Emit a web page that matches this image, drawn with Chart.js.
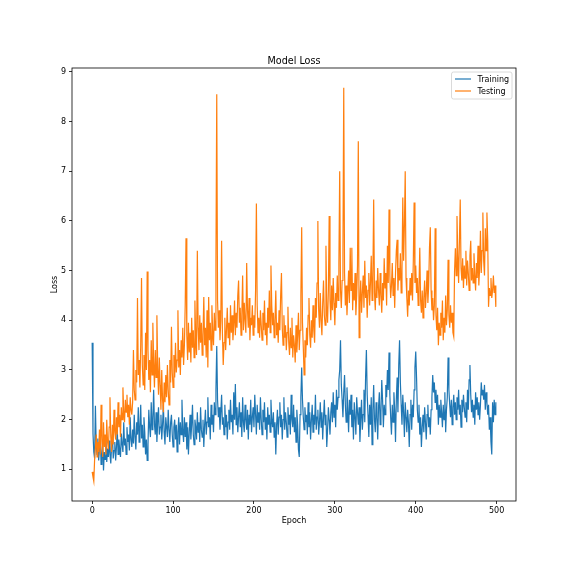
<!DOCTYPE html>
<html lang="en">
<head>
  <meta charset="UTF-8">
  <title>Model Loss</title>
  <script src="https://cdn.jsdelivr.net/npm/chart.js"></script>
  <style>
    html, body {
      margin: 0;
      padding: 0;
      background: #fff;
    }
    #lossChart {
      display: block;
    }
  </style>
</head>
<body>
  <canvas id="lossChart" width="573" height="573"></canvas>

  <script>
    // Values, one per epoch (0..499)
    const trainingLoss = [
      3.55, 1.72, 1.35, 1.22, 2.28, 1.45, 1.30, 1.62, 1.18, 1.40,
      1.75, 1.10, 1.28, 1.52, 0.98, 1.35, 1.20, 1.65, 1.15, 1.42,
      1.25, 1.58, 1.30, 1.12, 1.48, 1.70, 1.22, 1.38, 1.55, 1.18,
      1.45, 1.82, 1.30, 1.60, 1.40, 1.25, 1.72, 1.50, 1.35, 1.95,
      1.48, 1.62, 1.30, 1.85, 1.55, 1.70, 1.38, 2.05, 1.60, 1.45,
      1.80, 1.52, 2.10, 1.65, 1.40, 1.95, 1.70, 2.25, 1.55, 1.85,
      2.30, 1.62, 1.90, 1.45, 2.05, 1.75, 1.30, 1.60, 1.18, 1.50,
      2.20, 1.85, 1.65, 2.35, 1.80, 2.00, 2.60, 1.90, 1.70, 2.15,
      1.55, 1.95, 2.25, 1.70, 1.85, 2.10, 1.60, 1.90, 2.30, 1.75,
      1.50, 2.05, 1.85, 1.65, 2.20, 1.80, 1.55, 1.95, 2.10, 1.70,
      1.45, 1.85, 2.00, 1.60, 1.90, 1.35, 1.75, 2.05, 1.50, 1.95,
      1.70, 2.40, 1.80, 1.55, 2.05, 1.65, 1.95, 1.40, 1.85, 1.30,
      1.75, 2.10, 1.60, 1.90, 2.30, 1.70, 1.50, 2.00, 1.85, 1.60,
      2.15, 1.75, 1.95, 1.55, 2.25, 1.80, 1.65, 2.00, 1.45, 1.90,
      2.20, 1.70, 1.95, 2.45, 1.85, 2.05, 1.60, 2.30, 1.90, 2.10,
      1.75, 2.35, 2.10, 2.60, 3.48, 2.40, 2.05, 2.25, 1.80, 2.15,
      2.50, 1.90, 2.05, 1.70, 2.30, 1.85, 2.10, 1.60, 1.95, 2.20,
      1.80, 2.40, 1.95, 2.10, 1.70, 2.55, 2.00, 2.72, 1.90, 2.25,
      1.75, 2.05, 2.35, 1.85, 2.15, 1.65, 2.45, 1.95, 1.75, 2.30,
      2.00, 1.80, 2.20, 1.60, 2.10, 1.90, 2.40, 1.75, 2.05, 2.25,
      1.85, 2.50, 2.10, 1.70, 2.30, 1.95, 2.15, 1.80, 2.45, 2.00,
      1.70, 2.20, 1.95, 2.35, 1.80, 2.05, 1.60, 2.25, 1.90, 2.10,
      1.75, 2.40, 2.00, 1.85, 2.15, 1.65, 1.95, 1.30, 1.90, 2.20,
      1.70, 2.05, 2.35, 1.85, 2.10, 1.60, 2.00, 2.45, 1.80, 2.15,
      1.95, 1.65, 2.25, 1.90, 2.10, 1.70, 2.50, 2.00, 1.85, 2.30,
      1.75, 2.05, 1.55, 2.20, 1.90, 1.40, 1.25, 2.10, 2.45, 3.05,
      2.40, 2.05, 1.80, 2.25, 1.95, 2.10, 1.70, 2.35, 1.85, 2.15,
      1.60, 2.00, 2.30, 1.75, 2.10, 1.90, 2.50, 1.80, 2.05, 2.20,
      1.70, 1.95, 2.35, 1.85, 2.15, 1.60, 2.05, 2.40, 1.90, 2.10,
      1.45, 1.80, 2.25, 2.00, 1.70, 2.15, 2.35, 1.95, 2.55, 2.05,
      2.30, 1.85, 2.60, 2.20, 2.45, 2.80, 3.00, 3.60, 2.70, 2.40,
      2.05, 2.55, 2.90, 2.30, 1.95, 2.65, 2.20, 1.75, 2.40, 2.10,
      2.50, 1.85, 2.20, 1.60, 2.35, 2.05, 1.70, 2.45, 2.15, 1.90,
      2.25, 1.55, 2.00, 2.40, 1.80, 2.10, 2.60, 1.95, 2.85, 3.40,
      2.50, 2.10, 1.65, 2.30, 1.90, 2.45, 1.50, 2.20, 2.70, 2.00,
      1.75, 2.35, 2.05, 1.60, 2.25, 2.55, 1.90, 2.15, 2.80, 2.40,
      1.85, 2.30, 2.10, 2.70, 2.45, 3.00, 2.60, 3.35, 2.50, 2.05,
      1.70, 2.30, 1.95, 2.55, 2.20, 1.55, 2.40, 2.85, 2.15, 3.10,
      3.60, 2.75, 2.30, 1.90, 2.50, 2.15, 1.65, 2.35, 2.05, 1.75,
      2.20, 1.95, 1.45, 2.10, 2.40, 1.80, 2.30, 2.05, 2.60, 3.05,
      3.37, 2.85, 2.20, 1.95, 2.30, 1.70, 2.05, 1.45, 1.85, 2.10,
      1.75, 2.25, 1.95, 1.60, 2.10, 2.30, 1.85, 2.05, 1.70, 2.20,
      2.45, 2.90, 2.55, 2.75, 2.35, 2.60, 2.20, 2.50, 1.90, 2.30,
      2.05, 2.40, 2.15, 1.85, 2.30, 2.00, 2.55, 1.75, 2.20, 2.45,
      3.25, 2.60, 2.30, 2.05, 2.40, 1.90, 2.25, 2.50, 2.10, 2.35,
      2.00, 2.45, 2.20, 2.60, 2.10, 2.30, 1.85, 2.40, 2.15, 2.50,
      2.25, 2.05, 2.35, 1.95, 2.60, 2.20, 2.80, 3.10, 2.50, 2.15,
      2.40, 2.05, 2.30, 1.90, 2.55, 2.20, 2.45, 2.10, 2.35, 2.00,
      2.30, 2.75, 2.50, 2.60, 2.40, 2.70, 2.20, 2.55, 2.35, 2.10,
      2.30, 1.80, 2.05, 1.55, 1.30, 2.35, 1.95, 2.40, 2.10, 2.35
    ];

    const testingLoss = [
      0.95, 0.85, 0.76, 1.20, 1.45, 1.70, 1.25, 1.55, 1.35, 1.80,
      1.30, 2.30, 1.60, 1.25, 1.95, 1.45, 1.70, 1.30, 2.00, 1.55,
      1.40, 1.85, 2.45, 1.65, 1.35, 1.90, 1.50, 2.20, 1.75, 1.60,
      2.05, 1.70, 2.35, 1.85, 2.10, 1.65, 2.25, 2.00, 2.65, 2.15,
      1.95, 2.40, 2.15, 2.50, 2.05, 2.30, 1.90, 2.45, 2.20, 2.10,
      2.35, 3.40, 2.60, 2.40, 3.00, 2.75, 4.45, 2.90, 3.20, 2.65,
      3.50, 4.85, 3.10, 2.70, 3.30, 2.60, 3.75, 3.00, 4.98, 3.40,
      2.80, 3.20, 2.55, 3.60, 2.90, 3.95, 3.15, 2.65, 3.40, 2.85,
      4.10, 3.05, 2.50, 3.25, 2.70, 2.20, 3.00, 2.40, 2.15, 2.75,
      2.35, 2.90, 2.45, 3.10, 2.60, 2.30, 3.20, 2.75, 3.87, 2.95,
      2.65, 3.30, 2.85, 3.55, 2.95, 3.20, 4.20, 3.05, 3.40, 2.90,
      3.60, 3.25, 3.85, 3.10, 3.50, 4.30, 5.65, 3.70, 3.20, 3.95,
      3.35, 3.75, 3.15, 4.05, 3.45, 3.80, 3.25, 4.40, 3.60, 3.30,
      5.40, 3.85, 3.40, 4.10, 3.55, 3.95, 3.30, 3.70, 4.47, 3.50,
      3.85, 3.25, 4.20, 3.05, 4.47, 3.60, 3.95, 3.40, 4.30, 3.75,
      3.50, 4.15, 3.80, 5.20, 8.55, 4.40, 3.85, 4.20, 3.60, 4.00,
      5.60, 3.75, 3.10, 3.55, 4.05, 3.40, 3.80, 4.25, 3.65, 3.95,
      3.50, 4.30, 3.75, 4.10, 3.60, 3.90, 4.40, 3.70, 4.15, 3.85,
      4.50, 4.80, 3.95, 4.25, 3.70, 4.10, 4.90, 3.80, 4.35, 4.00,
      3.75, 5.15, 4.20, 3.85, 4.45, 3.60, 4.05, 3.90, 4.30, 3.70,
      4.10, 3.85, 4.60, 6.35, 4.30, 3.75, 4.05, 3.65, 4.20, 3.90,
      3.60, 4.15, 3.80, 4.40, 3.70, 3.95, 3.50, 4.25, 3.85, 4.60,
      3.75, 5.10, 4.30, 3.90, 4.15, 3.65, 4.00, 4.60, 3.70, 3.95,
      3.55, 4.20, 3.80, 4.50, 4.95, 3.85, 3.50, 4.10, 3.65, 3.90,
      3.40, 3.75, 4.27, 3.55, 3.30, 3.85, 3.45, 4.05, 3.25, 3.70,
      3.50, 3.15, 3.90, 3.35, 3.70, 4.15, 3.40, 3.80, 4.50, 5.87,
      3.95, 3.45, 2.90, 3.60, 3.25, 3.85, 3.50, 4.10, 4.45, 3.70,
      3.45, 4.00, 3.65, 4.30, 3.80, 3.55, 4.45, 4.05, 4.75, 6.00,
      4.20, 3.85, 4.55, 4.00, 3.70, 4.35, 4.80, 4.10, 3.90, 5.50,
      4.25, 3.95, 4.60, 6.10, 4.40, 4.00, 4.70, 4.20, 4.85, 4.35,
      3.90, 4.55, 4.25, 4.90, 4.40, 5.15, 7.00, 4.60, 4.25, 4.80,
      5.35, 8.68, 4.95, 4.30, 4.70, 4.10, 4.55, 5.00, 4.35, 5.46,
      4.60, 5.46, 4.20, 4.75, 4.40, 4.95, 4.10, 4.50, 5.10, 7.60,
      3.65, 4.35, 4.80, 4.15, 4.55, 4.90, 4.25, 5.20, 4.45, 4.70,
      4.05, 4.60, 4.95, 4.30, 4.75, 5.30, 4.40, 4.85, 6.43, 4.55,
      4.20, 4.80, 4.45, 5.05, 4.60, 4.30, 4.95, 4.50, 4.15, 4.75,
      4.40, 5.25, 4.65, 4.95, 4.30, 5.50, 4.75, 6.23, 4.90, 4.45,
      4.70, 5.15, 4.50, 4.85, 4.25, 4.95, 5.40, 5.62, 4.60, 5.05,
      4.80, 5.35, 4.55, 5.00, 6.47, 5.20, 5.90, 7.00, 4.85, 4.45,
      4.07, 4.60, 4.30, 4.85, 4.50, 4.95, 4.40, 5.20, 6.37, 4.75,
      5.10, 4.55, 4.85, 4.30, 4.65, 5.46, 4.40, 4.15, 4.60, 4.05,
      4.45, 4.80, 4.25, 4.55, 5.00, 4.35, 4.70, 5.46, 5.87, 4.60,
      4.20, 4.45, 4.00, 4.30, 5.85, 4.10, 3.80, 4.25, 3.50, 3.95,
      3.70, 4.15, 3.85, 4.40, 3.60, 4.05, 3.75, 4.50, 3.90, 4.20,
      5.22, 4.10, 3.85, 4.30, 3.95, 4.15, 3.75, 3.67, 5.00, 5.45,
      4.90, 6.10, 5.30, 4.75, 5.60, 6.43, 5.05, 4.80, 5.25, 4.65,
      5.10, 4.85, 5.40, 4.70, 5.20, 4.95, 4.60, 5.30, 5.60, 4.80,
      5.05, 4.75, 5.35, 4.90, 4.60, 5.15, 4.85, 5.50, 4.70, 5.05,
      5.80, 4.95, 5.40, 6.17, 5.20, 4.90, 5.85, 5.40, 6.17, 5.60,
      4.27, 4.65, 4.50, 4.85, 4.45, 4.60, 4.90, 4.55, 4.70, 4.27
    ];

    const epochTicks = [0, 100, 200, 300, 400, 500];
    const lossTicks = [1, 2, 3, 4, 5, 6, 7, 8, 9];

    const epochs = trainingLoss.map((_, i) => i);
    const FONT = "'DejaVu Sans', sans-serif";

    // matplotlib style frame, title and legend
    const mplDecor = {
      id: 'mplDecor',
      afterDraw(chart) {
        const ctx = chart.ctx;
        const a = chart.chartArea;
        ctx.save();
        ctx.strokeStyle = '#000';
        ctx.lineWidth = 0.8;
        ctx.strokeRect(a.left, a.top, a.right - a.left, a.bottom - a.top);

        ctx.fillStyle = '#000';
        ctx.font = '9.6px ' + FONT;
        ctx.textAlign = 'center';
        ctx.textBaseline = 'alphabetic';
        ctx.fillText('Model Loss', (a.left + a.right) / 2, 63.5);

        // legend box
        const bx = 451.5, by = 72, bw = 60.5, bh = 27;
        ctx.beginPath();
        ctx.roundRect(bx, by, bw, bh, 2);
        ctx.fillStyle = 'rgba(255,255,255,0.8)';
        ctx.fill();
        ctx.strokeStyle = '#d0d0d0';
        ctx.lineWidth = 0.8;
        ctx.stroke();

        const items = [
          ['Training', '#1f77b4', 79],
          ['Testing', '#ff7f0e', 91]
        ];
        ctx.font = '8px ' + FONT;
        ctx.textAlign = 'left';
        ctx.textBaseline = 'middle';
        items.forEach(([label, color, y]) => {
          ctx.strokeStyle = color;
          ctx.lineWidth = 1.2;
          ctx.beginPath();
          ctx.moveTo(455, y);
          ctx.lineTo(471, y);
          ctx.stroke();
          ctx.fillStyle = '#000';
          ctx.fillText(label, 477.5, y + 0.5);
        });
        ctx.restore();
      }
    };

    new Chart(document.getElementById('lossChart'), {
      type: 'line',
      data: {
        labels: epochs,
        datasets: [{
          label: 'Training',
          data: trainingLoss.map((v, i) => ({ x: epochs[i], y: v })),
          borderColor: '#1f77b4',
          borderWidth: 1.2,
          pointRadius: 0,
          tension: 0,
          order: 2
        }, {
          label: 'Testing',
          data: testingLoss.map((v, i) => ({ x: epochs[i], y: v })),
          borderColor: '#ff7f0e',
          borderWidth: 1.2,
          pointRadius: 0,
          tension: 0,
          order: 1
        }]
      },
      options: {
        responsive: false,
        animation: false,
        layout: {
          padding: { top: 68, right: 57, bottom: 0, left: 0 }
        },
        plugins: {
          legend: { display: false },
          title: { display: false },
          tooltip: { enabled: false }
        },
        scales: {
          x: {
            type: 'linear',
            min: -24.95,
            max: 523.95,
            afterBuildTicks: s => { s.ticks = epochTicks.map(v => ({ value: v })); },
            afterFit: s => { s.height = 72; },
            grid: { drawOnChartArea: false, tickLength: 3, tickColor: '#000', lineWidth: 0.8 },
            border: { display: false },
            ticks: { color: '#000', padding: 2.5, maxRotation: 0, font: { family: FONT, size: 8 } },
            title: {
              display: true,
              text: 'Epoch',
              color: '#000',
              font: { family: FONT, size: 8 },
              padding: { top: 0, bottom: 47 }
            }
          },
          y: {
            min: 0.364,
            max: 9.076,
            afterBuildTicks: s => { s.ticks = lossTicks.map(v => ({ value: v })); },
            afterFit: s => { s.width = 72; },
            grid: { drawOnChartArea: false, tickLength: 3, tickColor: '#000', lineWidth: 0.8 },
            border: { display: false },
            ticks: { color: '#000', padding: 3, font: { family: FONT, size: 8 } },
            title: {
              display: true,
              text: 'Loss',
              color: '#000',
              font: { family: FONT, size: 8 },
              padding: { top: 50, bottom: 0 }
            }
          }
        }
      },
      plugins: [mplDecor]
    });
  </script>
</body>
</html>
